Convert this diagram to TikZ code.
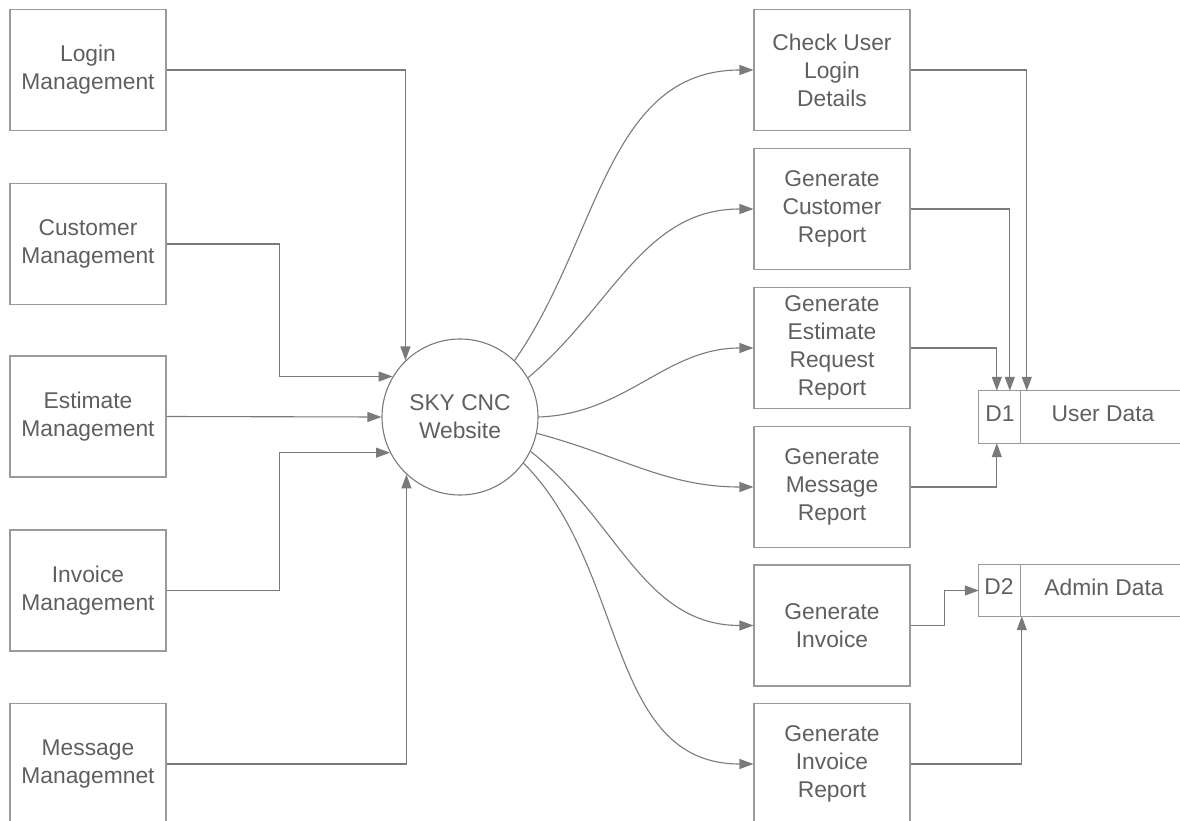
\documentclass[tikz,border=0pt]{standalone}
\usepackage{fontspec}
\setmainfont{Liberation Sans}
\usetikzlibrary{arrows.meta}
\definecolor{boxline}{HTML}{9A9A9A}
\definecolor{conn}{HTML}{7A7A7A}
\definecolor{txt}{HTML}{5F5F5F}
\begin{document}
\begin{tikzpicture}[x=1pt,y=-1pt,
  every node/.style={font=\fontsize{22.8}{28}\selectfont, text=txt},
  procbox/.style={draw=boxline, line width=1.1pt, rectangle, minimum width=156pt, minimum height=121pt, align=center, inner sep=0pt},
  hub/.style={draw=conn, line width=1.1pt, circle, minimum size=156pt, align=center, inner sep=0pt},
  arr/.style={draw=conn, line width=1.1pt, -{Triangle[length=14pt,width=10pt]}},
  storeline/.style={draw=boxline, line width=1.1pt},
  lbl/.style={inner sep=0pt}
]
\useasboundingbox (0,0) rectangle (1180,821);
\clip (0,0) rectangle (1180,821);

% left boxes
\node[procbox] (login) at (88,70) {Login\\Management};
\node[procbox] (cust) at (88,244) {Customer\\Management};
\node[procbox] (est) at (88,416.5) {Estimate\\Management};
\node[procbox] (inv) at (88,590.5) {Invoice\\Management};
\node[procbox] (msg) at (88,764) {Message\\Managemnet};

% hub
\node[hub] (c) at (460,417) {SKY CNC\\Website};

% right boxes
\node[procbox] (chk) at (832,70) {Check User\\Login\\Details};
\node[procbox] (gcr) at (832,209) {Generate\\Customer\\Report};
\node[procbox] (ger) at (832,348) {Generate\\Estimate\\Request\\Report};
\node[procbox] (gmr) at (832,487) {Generate\\Message\\Report};
\node[procbox] (gi) at (832,625.5) {Generate\\Invoice};
\node[procbox] (gir) at (832,764) {Generate\\Invoice\\Report};

% data stores
\node[minimum width=220pt, minimum height=52pt, inner sep=0pt] (d1) at (1089,417) {};
\node[minimum width=220pt, minimum height=51pt, inner sep=0pt] (d2) at (1089,590.5) {};
\draw[storeline] (d1.north east) -- (d1.north west) -- (d1.south west) -- (d1.south east);
\draw[storeline] ([xshift=42pt]d1.north west) -- ([xshift=42pt]d1.south west);
\draw[storeline] (d2.north east) -- (d2.north west) -- (d2.south west) -- (d2.south east);
\draw[storeline] ([xshift=42pt]d2.north west) -- ([xshift=42pt]d2.south west);
\node[lbl] (d1id) at (1000,414) {D1};
\node[lbl] (d1name) at (1103,414) {User Data};
\node[lbl] (d2id) at (999,587) {D2};
\node[lbl] (d2name) at (1104,587) {Admin Data};

% left connectors
\draw[arr] (login.east) -| (c.134.5);
\draw[arr] (cust.east) -- ++(113,0) |- (c.149);
\draw[arr] (est.east) -- (c.180);
\draw[arr] (inv.east) -- ++(113,0) |- (c.207);
\draw[arr] (msg.east) -| (c.227.5);

% right curves
\draw[arr] (c.46) to[out=55,in=180] (chk.west);
\draw[arr] (c.30) to[out=40,in=180] (gcr.west);
\draw[arr] (c.0) to[out=2,in=180] (ger.west);
\draw[arr] (c.-12) to[out=-15,in=180] (gmr.west);
\draw[arr] (c.-26.6) to[out=-38,in=180] (gi.west);
\draw[arr] (c.-36) to[out=-45,in=180] (gir.west);

% to data stores
\draw[arr] (chk.east) -| ([xshift=48pt]d1.north west);
\draw[arr] (gcr.east) -| ([xshift=31pt]d1.north west);
\draw[arr] (ger.east) -| ([xshift=18pt]d1.north west);
\draw[arr] (gmr.east) -| ([xshift=18pt]d1.south west);
\draw[arr] (gi.east) -- ++(34,0) |- (d2.west);
\draw[arr] (gir.east) -| ([xshift=43pt]d2.south west);
\end{tikzpicture}
\end{document}
